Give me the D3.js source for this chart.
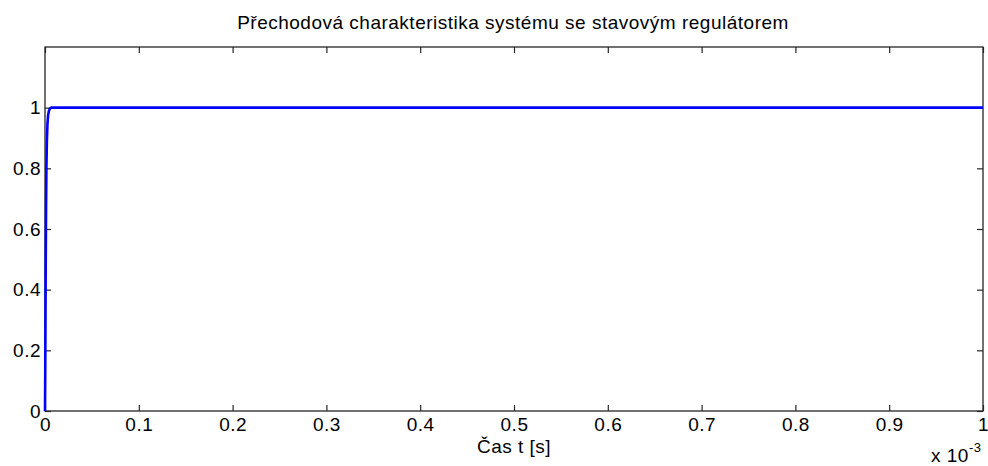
<!DOCTYPE html>
<html>
<head>
<meta charset="utf-8">
<script src="https://cdn.jsdelivr.net/npm/d3@7"></script>
<style>
  html, body { margin: 0; padding: 0; background: #fff; }
  svg { display: block; font-family: "Liberation Sans", Arial, sans-serif; }
</style>
</head>
<body>
<svg id="chart" width="988" height="466"></svg>
<script>
// Step response of the system with state-feedback controller
const timeSec = [0, 0.25e-6, 0.5e-6, 0.8e-6, 1.1e-6, 1.5e-6, 2.0e-6, 2.6e-6, 3.3e-6, 4.2e-6, 5.3e-6, 6.5e-6, 1e-3];
const response = [0, 0.12, 0.3, 0.5, 0.66, 0.8, 0.89, 0.945, 0.975, 0.99, 0.997, 1.0, 1.0];

const xTicks = [0, 0.1, 0.2, 0.3, 0.4, 0.5, 0.6, 0.7, 0.8, 0.9, 1];
const yTicks = [0, 0.2, 0.4, 0.6, 0.8, 1];

const titleText = "Přechodová charakteristika systému se stavovým regulátorem";
const xLabelText = "Čas t [s]";

const svg = d3.select("#chart");
const margin = { left: 45, right: 5, top: 47, bottom: 55 };
const W = 988, H = 466;
const x0 = margin.left, x1 = W - margin.right;
const y0 = H - margin.bottom, y1 = margin.top;

// x axis shown in units of 1e-3 s
const x = d3.scaleLinear().domain([0, 1]).range([x0, x1]);
const y = d3.scaleLinear().domain([0, 1.2]).range([y0, y1]);

const axisColor = "#262626";
const tickSize = 6;
const fontSize = 19;
const spacing = "0.5px";

// plot frame
svg.append("rect")
  .attr("x", x0).attr("y", y1)
  .attr("width", x1 - x0).attr("height", y0 - y1)
  .attr("fill", "#fff").attr("stroke", axisColor).attr("stroke-width", 1.3);

function styleAxis(g) {
  g.select(".domain").remove();
  g.selectAll(".tick line").attr("stroke", axisColor).attr("stroke-width", 1.2);
  g.selectAll(".tick text").attr("fill", "#000").attr("font-size", fontSize)
    .attr("letter-spacing", spacing)
    .attr("font-family", "'Liberation Sans', Arial, sans-serif");
}

// bottom axis with labels, ticks pointing inward
svg.append("g").attr("transform", `translate(0,${y0})`)
  .call(d3.axisBottom(x).tickValues(xTicks).tickFormat(d3.format("~g"))
    .tickSizeInner(-tickSize).tickSizeOuter(0).tickPadding(7))
  .call(styleAxis);
// top axis ticks
svg.append("g").attr("transform", `translate(0,${y1})`)
  .call(d3.axisTop(x).tickValues(xTicks).tickFormat("")
    .tickSizeInner(-tickSize).tickSizeOuter(0))
  .call(styleAxis);
// left axis with labels
svg.append("g").attr("transform", `translate(${x0},0)`)
  .call(d3.axisLeft(y).tickValues(yTicks).tickFormat(d3.format("~g"))
    .tickSizeInner(-tickSize).tickSizeOuter(0).tickPadding(4))
  .call(styleAxis);
// right axis ticks
svg.append("g").attr("transform", `translate(${x1},0)`)
  .call(d3.axisRight(y).tickValues(yTicks).tickFormat("")
    .tickSizeInner(-tickSize).tickSizeOuter(0))
  .call(styleAxis);

// response curve
const line = d3.line()
  .x((d, i) => x(timeSec[i] * 1e3))
  .y(d => y(d));
svg.append("path")
  .datum(response)
  .attr("d", line)
  .attr("fill", "none")
  .attr("stroke", "#0000ff")
  .attr("stroke-width", 2.6)
  .attr("stroke-linejoin", "round");

// title
svg.append("text")
  .attr("x", 513).attr("y", 29)
  .attr("text-anchor", "middle").attr("font-size", fontSize)
  .attr("letter-spacing", spacing).attr("fill", "#000")
  .text(titleText);

// x label
svg.append("text")
  .attr("x", 514).attr("y", 453)
  .attr("text-anchor", "middle").attr("font-size", fontSize)
  .attr("letter-spacing", spacing).attr("fill", "#000")
  .text(xLabelText);

// exponent note
const ex = svg.append("text")
  .attr("x", 931).attr("y", 462)
  .attr("font-size", fontSize).attr("letter-spacing", spacing).attr("fill", "#000");
ex.append("tspan").text("x 10");
ex.append("tspan").attr("dy", -10).attr("font-size", 13).text("-3");
</script>
</body>
</html>
